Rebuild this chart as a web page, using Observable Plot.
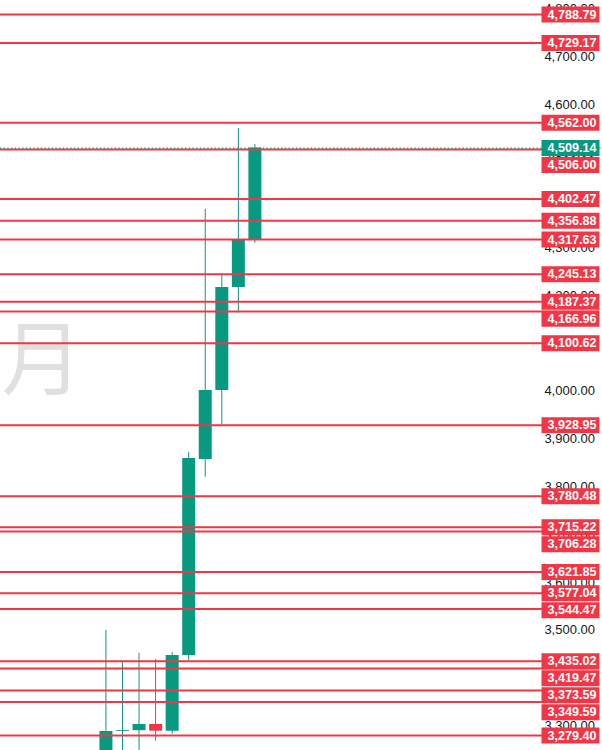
<!DOCTYPE html>
<html>
<head>
<meta charset="utf-8">
<script src="https://cdn.jsdelivr.net/npm/d3@7"></script>
<script src="https://cdn.jsdelivr.net/npm/@observablehq/plot@0.6"></script>
<style>
  html, body { margin: 0; padding: 0; background: #ffffff; }
  #chart svg { display: block; }
</style>
</head>
<body>
<div id="chart"></div>
<script>
// ---- Data ----
const periods = ["2025-04", "2025-05", "2025-06", "2025-07", "2025-08", "2025-09", "2025-10", "2025-11", "2025-12", "2026-01"];
const opens  = [3120.0, 3287.8, 3289.5, 3302.4, 3288.4, 3446.9, 3857.2, 4001.7, 4217.3, 4316.3];
const highs  = [3499.2, 3432.8, 3451.1, 3438.5, 3453.1, 3871.9, 4380.6, 4245.1, 4550.1, 4516.6];
const lows   = [2960.0, 3120.0, 3245.0, 3267.5, 3282.1, 3436.4, 3820.1, 3929.0, 4163.5, 4310.0];
const closes = [3287.8, 3289.5, 3302.4, 3288.4, 3446.9, 3859.3, 4001.7, 4217.3, 4317.8, 4509.14];

const levels = [4788.79, 4729.17, 4562.00, 4506.00, 4402.47, 4356.88, 4317.63, 4245.13,
                4187.37, 4166.96, 4100.62, 3928.95, 3780.48, 3715.22, 3706.28, 3621.85,
                3577.04, 3544.47, 3435.02, 3419.47, 3373.59, 3349.59, 3279.40];
const currentPrice = 4509.14;
const tickValues = [3300, 3400, 3500, 3600, 3700, 3800, 3900, 4000, 4100, 4200, 4300, 4400, 4500, 4600, 4700, 4800];
const watermark = "月";

// ---- Styling / layout ----
const W = 602, H = 750;
const RED = "#f23645", GREEN = "#089981";
const yDomain = [3248.0, 4818.1];
const xDomain = [-6.37, 30];
const fmt = d3.format(",.2f");

const candles = periods.map((p, i) => ({
  i, period: p, open: opens[i], high: highs[i], low: lows[i], close: closes[i],
  up: closes[i] >= opens[i]
}));

// price labels on the right axis, pushed apart so they do not overlap
const labelGapPx = 17;
const gapUnits = labelGapPx * (yDomain[1] - yDomain[0]) / H;
const labelData = [
  ...levels.map(v => ({value: v, color: RED})),
  {value: currentPrice, color: GREEN}
].sort((a, b) => b.value - a.value);
labelData.forEach((d, k) => {
  d.pos = k === 0 ? d.value : Math.min(d.value, labelData[k - 1].pos - gapUnits);
});

const rectSymbol = {draw(context) { context.rect(-29, -8, 58, 16); }};

const chart = Plot.plot({
  width: W,
  height: H,
  margin: 0,
  x: {domain: xDomain, axis: null},
  y: {domain: yDomain, axis: null},
  style: {background: "#ffffff", fontFamily: "'Liberation Sans', Arial, sans-serif"},
  marks: [
    Plot.text([watermark], {
      frameAnchor: "left", dx: 1, dy: -13, textAnchor: "start",
      fontSize: 81, fill: "#e0e0e0", fontFamily: "'Noto Sans CJK SC', sans-serif"
    }),
    Plot.ruleX(candles, {x: "i", y1: "low", y2: "high", stroke: d => d.up ? GREEN : RED, strokeWidth: 1, clip: true}),
    Plot.ruleX(candles, {x: "i", y1: "open", y2: "close", stroke: d => d.up ? GREEN : RED, strokeWidth: 13, clip: true}),
    Plot.text(tickValues, {
      y: d => d, text: d => fmt(d), frameAnchor: "right", dx: -7.5, textAnchor: "end",
      fontSize: 13, fill: "#131722"
    }),
    Plot.ruleY(levels, {y: d => d, stroke: RED, strokeWidth: 2, insetRight: 3}),
    Plot.ruleY([currentPrice], {y: d => d, stroke: GREEN, strokeWidth: 1.2, strokeDasharray: "1.3,2.4"}),
    Plot.dot(labelData, {y: "pos", frameAnchor: "right", dx: -32, symbol: rectSymbol, fill: "color", r: 5}),
    Plot.text(labelData, {
      y: "pos", text: d => fmt(d.value), frameAnchor: "right", dx: -6, textAnchor: "end",
      fill: "#ffffff", fontWeight: "bold", fontSize: 12.6
    })
  ]
});
document.getElementById("chart").appendChild(chart);
</script>
</body>
</html>
